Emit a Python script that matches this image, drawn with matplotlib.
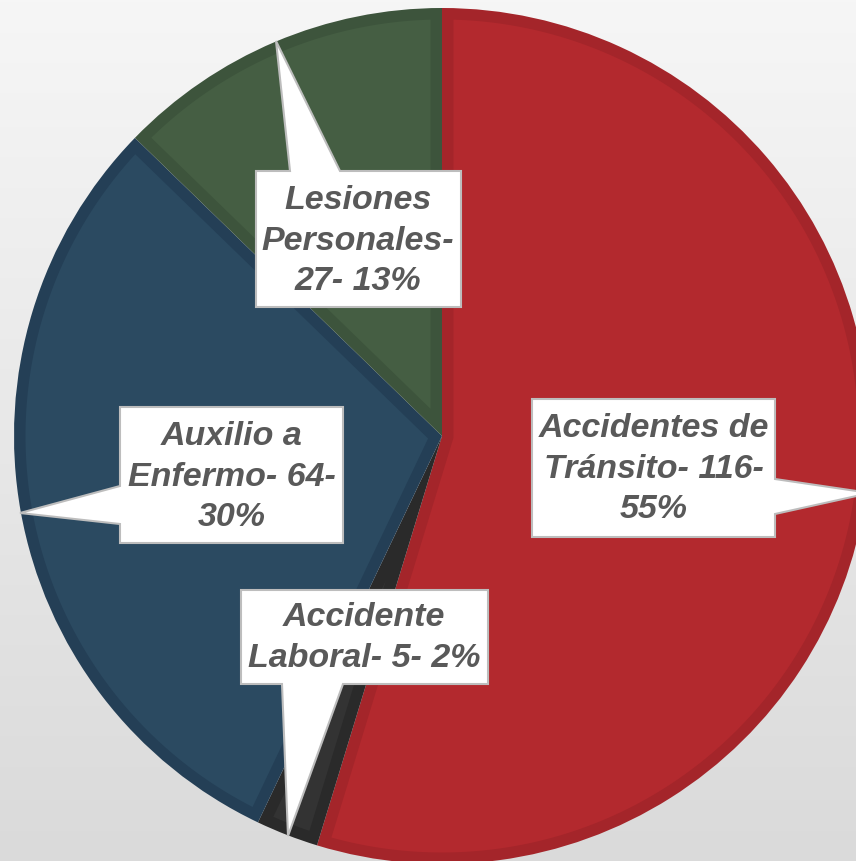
import matplotlib
matplotlib.use("Agg")
import matplotlib.pyplot as plt
import numpy as np
from matplotlib.patches import Polygon

# ---- data ----
categories = ["Accidentes de Tránsito", "Accidente Laboral", "Auxilio a Enfermo", "Lesiones Personales"]
values = [116, 5, 64, 27]
percents = [55, 2, 30, 13]
label_texts = [
    "Accidentes de\nTránsito- 116-\n55%",
    "Accidente\nLaboral- 5- 2%",
    "Auxilio a\nEnfermo- 64-\n30%",
    "Lesiones\nPersonales-\n27- 13%",
]

fill_colors = ["#B3292E", "#333333", "#2B4A61", "#455E43"]
edge_colors = ["#A4252A", "#2A2A2A", "#243F56", "#3D543C"]

W, H = 856, 862
fig = plt.figure(figsize=(W / 100, H / 100), dpi=100)
ax = fig.add_axes([0, 0, 1, 1])

def P(x, y):
    return (x, H - y)

# background gradient
grad = np.linspace(0, 1, 256).reshape(-1, 1)
top = np.array([0.965, 0.965, 0.965])
bot = np.array([0.855, 0.855, 0.855])
img = top[None, None, :] * (1 - grad[:, :, None]) + bot[None, None, :] * grad[:, :, None]
ax.imshow(img, extent=(0, W, 0, H), aspect="auto", zorder=0, origin="upper")

cx, cy = P(442, 437)
R = 428
wedges, _ = ax.pie(values, colors=edge_colors, startangle=90, counterclock=False,
                   center=(cx, cy), radius=R, wedgeprops=dict(linewidth=0))

# inner lighter fill, inset from each wedge's border
d = 11.5
for w, fc in zip(wedges, fill_colors):
    t1, t2 = np.radians(w.theta1), np.radians(w.theta2)
    half = (t2 - t1) / 2
    mid = (t1 + t2) / 2
    vr = d / np.sin(half)
    Vx, Vy = cx + vr * np.cos(mid), cy + vr * np.sin(mid)
    da = np.arcsin(d / (R - d))
    a1, a2 = t1 + da, t2 - da
    if a2 <= a1:
        continue
    arc = np.linspace(a1, a2, 200)
    pts = [(Vx, Vy)] + [(cx + (R - d) * np.cos(a), cy + (R - d) * np.sin(a)) for a in arc]
    ax.add_patch(Polygon(pts, closed=True, facecolor=fc, edgecolor="none", zorder=2))

# callouts (image pixel coordinates)
callouts = [
    ([(532, 400), (775, 400), (775, 480), (870, 494), (775, 515), (775, 538), (532, 538)], (654, 469)),
    ([(241, 591), (488, 591), (488, 685), (343, 685), (288, 837), (282, 685), (241, 685)], (364, 638)),
    ([(120, 408), (343, 408), (343, 544), (120, 544), (120, 525), (20, 514), (120, 487)], (232, 477)),
    ([(256, 172), (290, 172), (276, 42), (340, 172), (461, 172), (461, 308), (256, 308)], (358, 241)),
]
for (pts, tc), txt in zip(callouts, label_texts):
    poly = Polygon([P(x, y) for x, y in pts], closed=True, facecolor="white",
                   edgecolor="#BDBDBD", linewidth=1.5, zorder=3, joinstyle="miter")
    ax.add_patch(poly)
    ax.text(*P(*tc), txt, ha="center", va="center", fontsize=24.5,
            fontfamily="Liberation Sans", fontweight="bold", fontstyle="italic",
            color="#595959", linespacing=1.4, zorder=4)

ax.set_xlim(0, W)
ax.set_ylim(0, H)
ax.set_aspect("auto")
ax.axis("off")
fig.savefig("out.png", dpi=100)
